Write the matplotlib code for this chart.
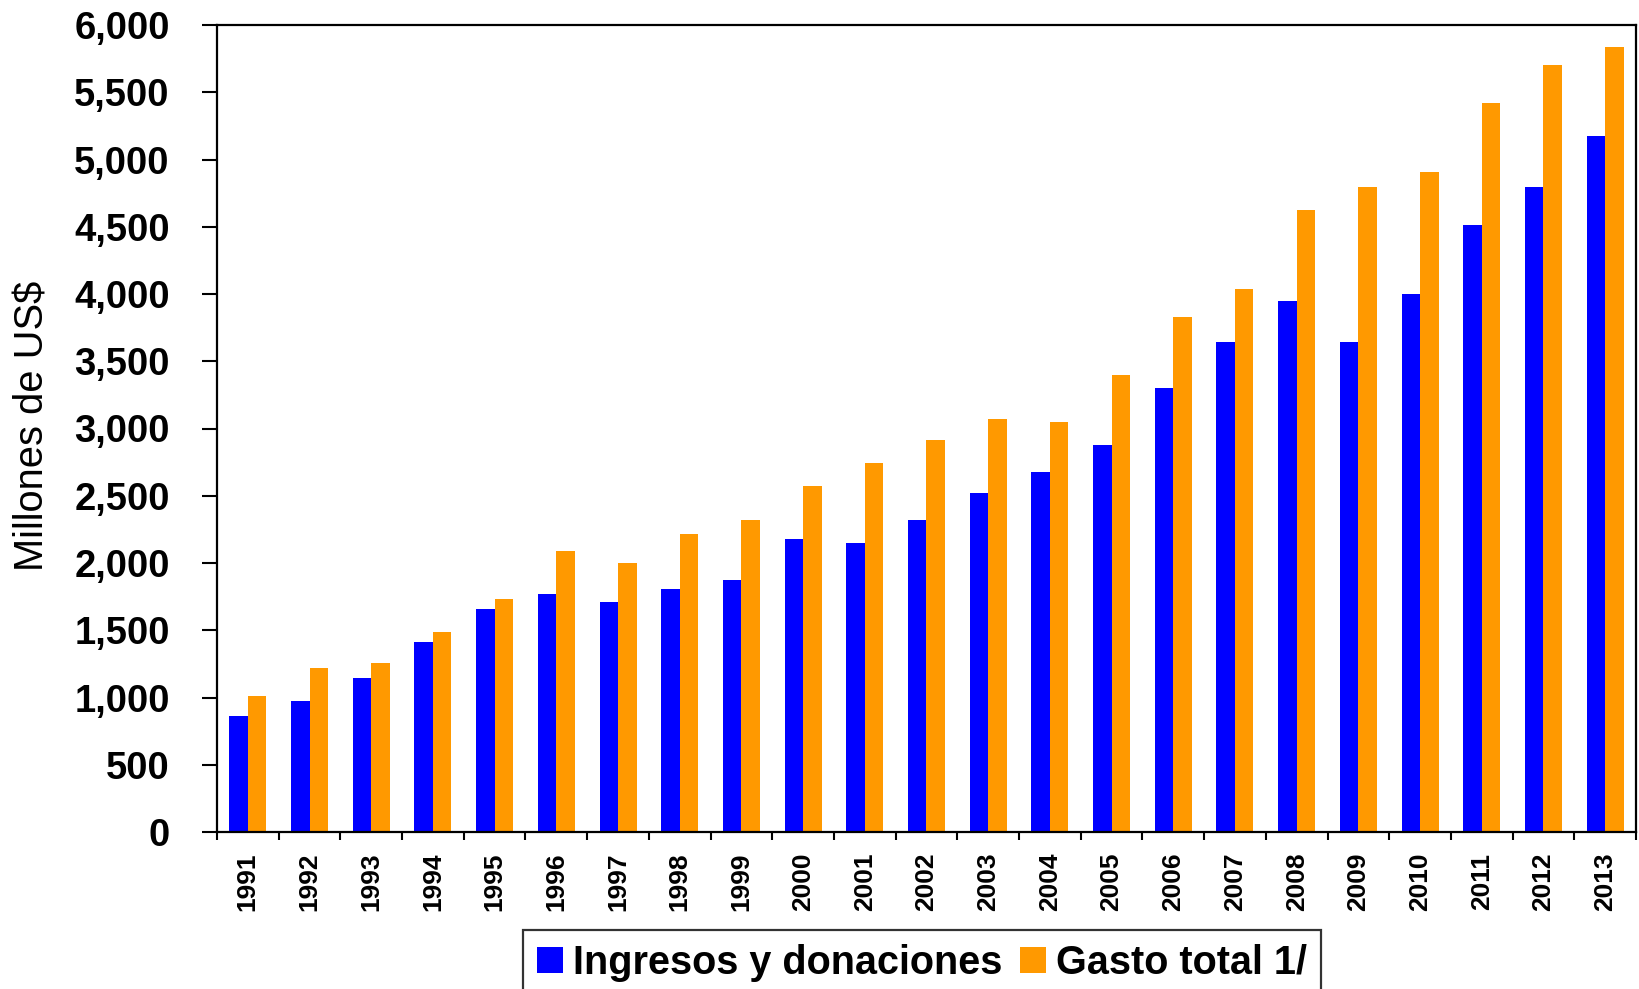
import matplotlib
matplotlib.use("Agg")
import matplotlib.pyplot as plt
from matplotlib.ticker import FuncFormatter, FixedLocator
import numpy as np

years = [str(y) for y in range(1991, 2014)]
ingresos = [862, 974, 1145, 1413, 1658, 1770, 1710, 1807, 1875, 2179, 2148, 2319,
            2521, 2677, 2879, 3300, 3642, 3946, 3643, 4000, 4513, 4796, 5175]
gasto = [1011, 1219, 1256, 1487, 1732, 2086, 2000, 2218, 2319, 2576, 2747, 2918,
         3074, 3051, 3401, 3829, 4039, 4625, 4796, 4907, 5420, 5703, 5836]
series_names = ["Ingresos y donaciones", "Gasto total 1/"]
yticks = [0, 500, 1000, 1500, 2000, 2500, 3000, 3500, 4000, 4500, 5000, 5500, 6000]

plt.rcParams['font.family'] = ['Liberation Sans', 'DejaVu Sans']

fig = plt.figure(figsize=(16.4, 9.89), dpi=100)
ax = fig.add_axes([217/1640, 1-832/989, (1636-217)/1640, (832-25)/989])

x = np.arange(len(years))
w = 0.30
ax.bar(x - w/2, ingresos, width=w, color='#0000FF', label=series_names[0], zorder=2)
ax.bar(x + w/2, gasto, width=w, color='#FF9900', label=series_names[1], zorder=2)

ax.set_xlim(-0.5, len(years) - 0.5)
ax.set_ylim(0, 6000)
ax.set_yticks(yticks)
ax.yaxis.set_major_formatter(FuncFormatter(lambda v, p: f"{int(v):,}"))
ax.tick_params(axis='y', direction='out', length=11, width=1.5, pad=23,
               labelsize=27.5)
for lab in ax.get_yticklabels():
    lab.set_fontweight('bold')

# boundaries as major ticks, labels at centers as minor
ax.xaxis.set_major_locator(FixedLocator(np.arange(-0.5, len(years), 1.0)))
ax.xaxis.set_major_formatter(FuncFormatter(lambda v, p: ""))
ax.xaxis.set_minor_locator(FixedLocator(x))
ax.set_xticks(x, years, minor=True)
ax.tick_params(axis='x', which='major', direction='out', length=6, width=1.5)
ax.tick_params(axis='x', which='minor', length=0, pad=15, labelsize=19,
               labelrotation=90)
for lab in ax.get_xticklabels(minor=True):
    lab.set_fontweight('bold')

for s in ax.spines.values():
    s.set_linewidth(1.6)
    s.set_color('black')

ax.set_ylabel("Millones de US$", fontsize=28.7)
ax.yaxis.set_label_coords(-0.1165, 0.503)

leg = fig.legend(loc='upper left', bbox_to_anchor=(523/1640, 1-930/989),
                 ncol=2, frameon=True, fancybox=False, edgecolor='black',
                 prop={'weight': 'bold', 'size': 28.5},
                 handlelength=0.66, handleheight=0.66, handletextpad=0.25,
                 columnspacing=0.45, borderpad=0.35, borderaxespad=0)
leg.get_frame().set_linewidth(1.6)

fig.savefig("out.png", dpi=100)
